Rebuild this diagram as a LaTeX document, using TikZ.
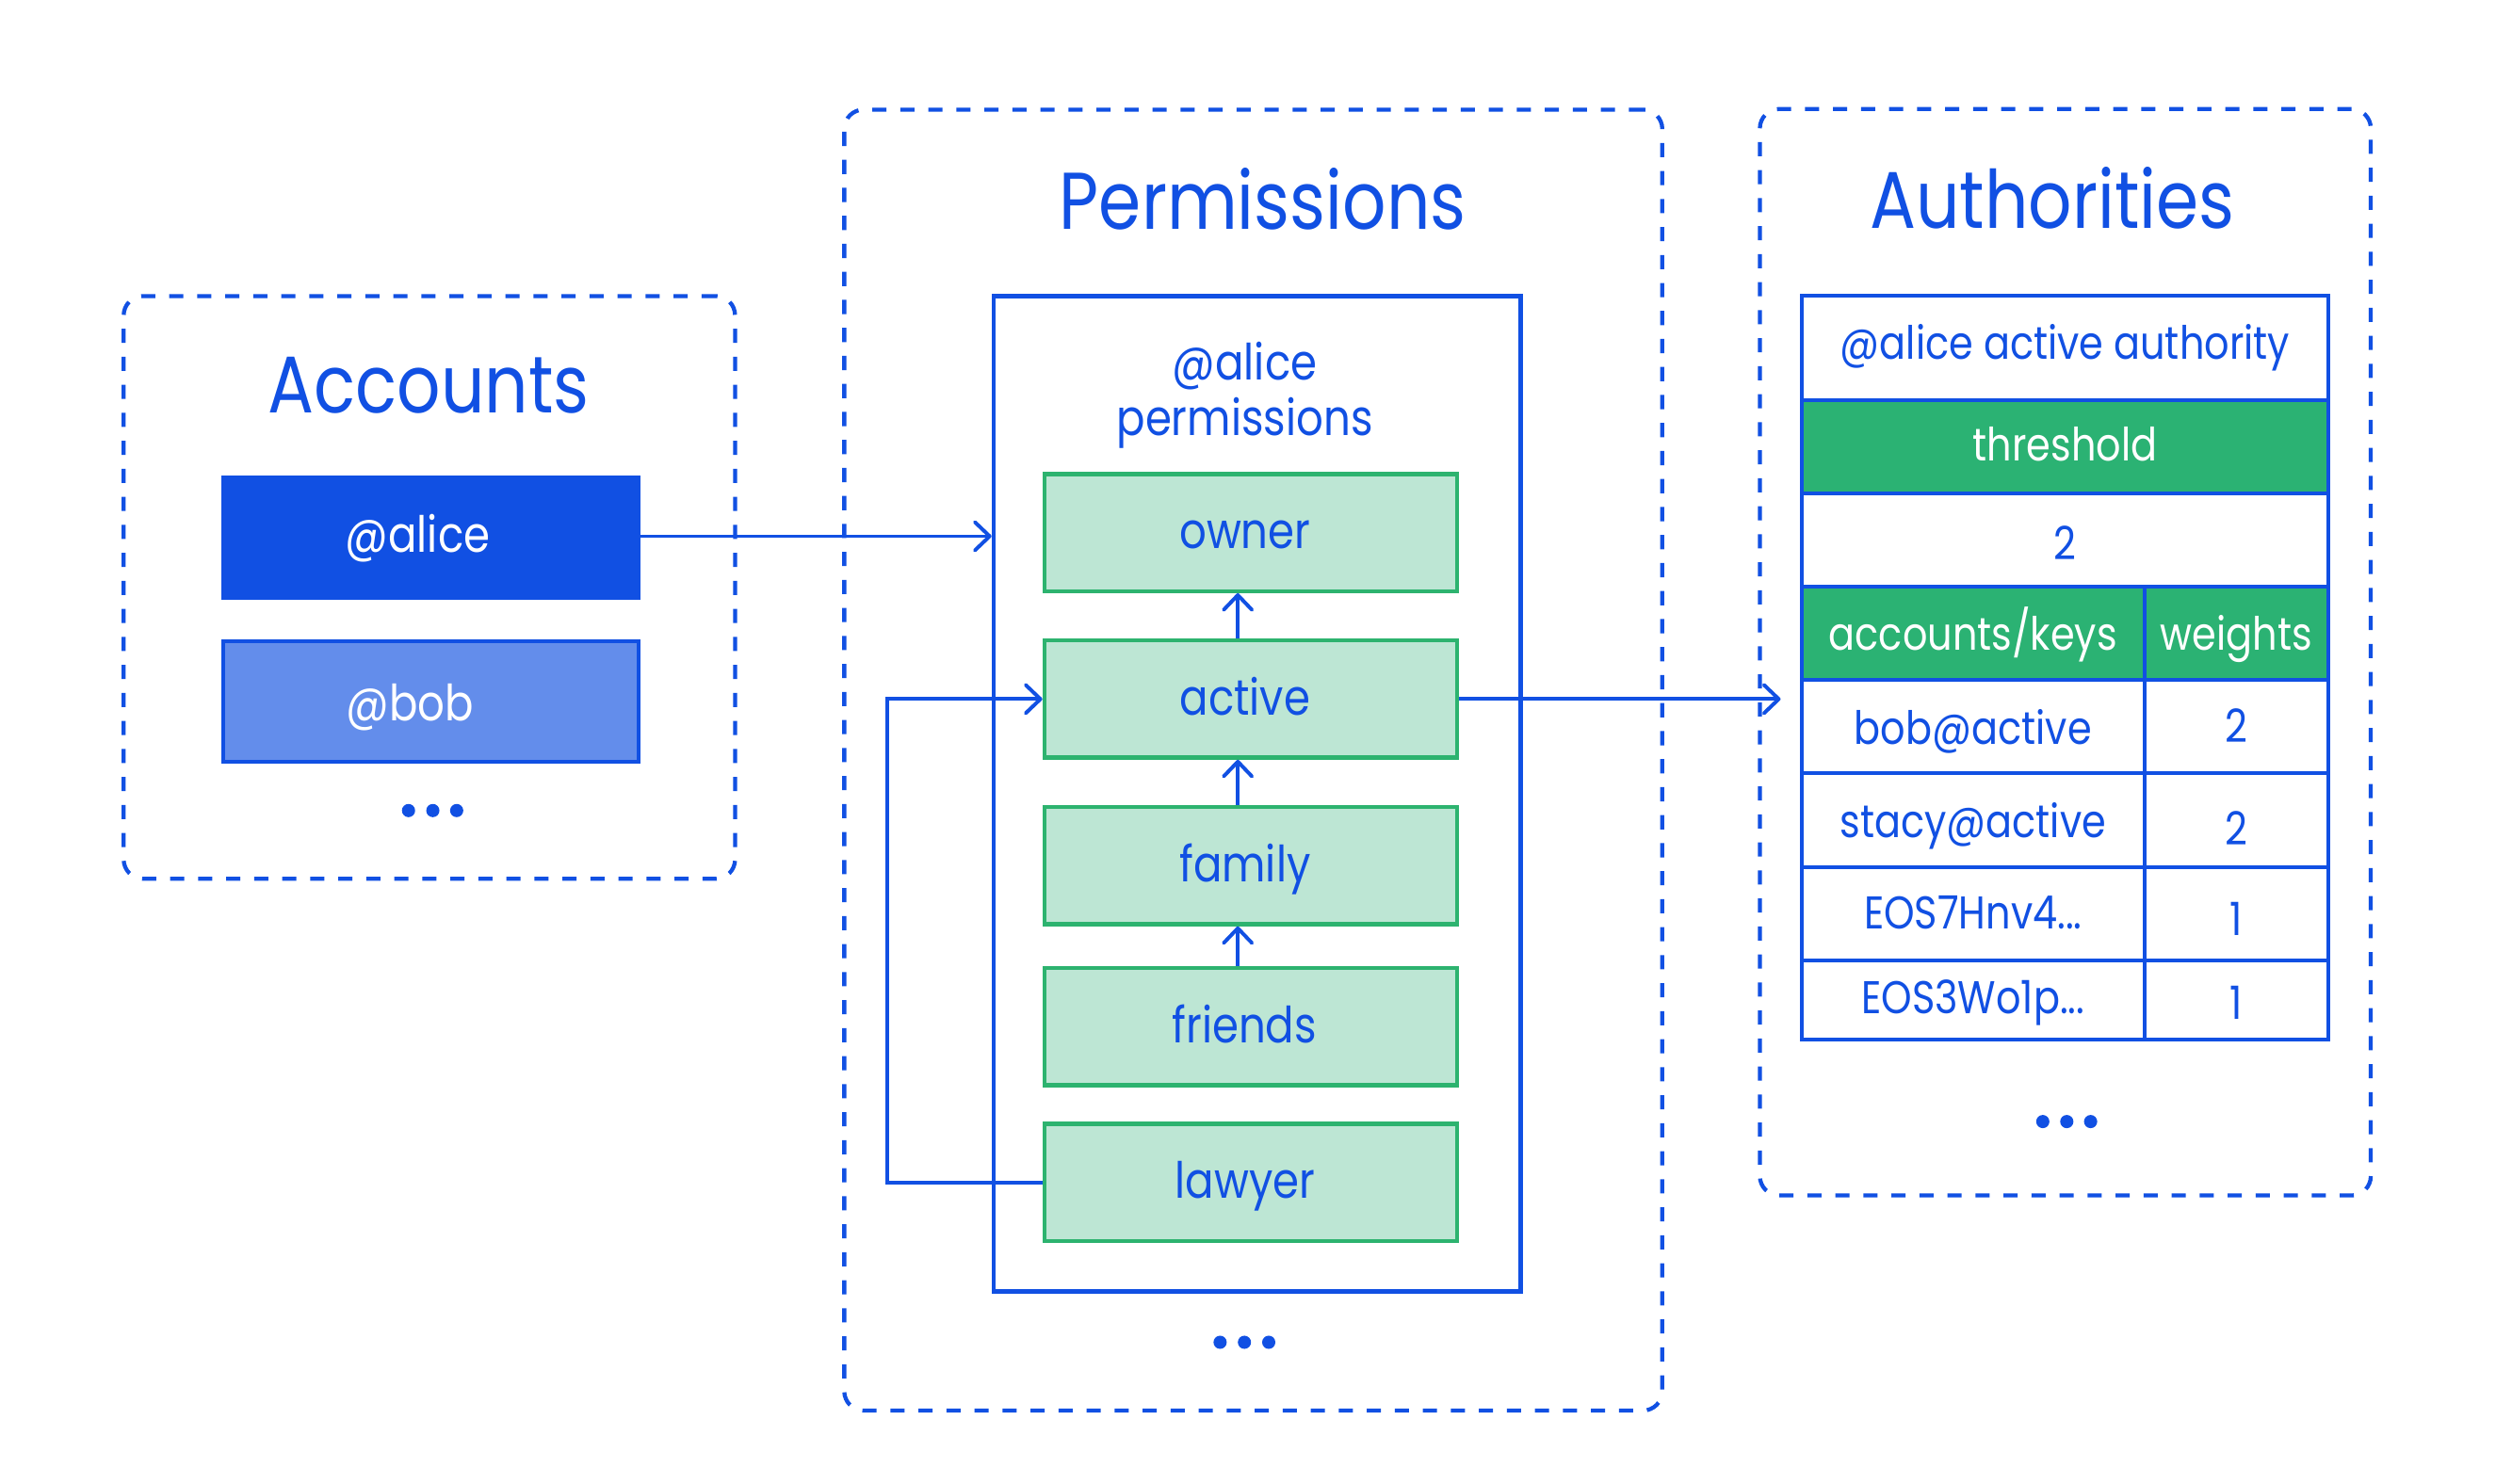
\documentclass[tikz,border=0pt]{standalone}
\usepackage{fontspec}
\setmainfont{Poppins}[FakeStretch=0.85]
\usetikzlibrary{arrows.meta}
\definecolor{cblue}{HTML}{1150E3}
\definecolor{cbob}{HTML}{638DEB}
\definecolor{cgreen}{HTML}{2DB36F}
\definecolor{cmint}{HTML}{BDE6D4}
\definecolor{ctab}{HTML}{2BB273}
\tikzset{
  group/.style={draw=cblue, dash pattern=on 8.8pt off 8.6pt, line width=2.5pt, rounded corners=12pt, inner sep=0pt},
  grouptitle/.style={text=cblue, font=\fontsize{50}{56}\selectfont, inner sep=0pt, anchor=base},
  acct/.style={draw=cblue, line width=2.3pt, minimum width=257.9pt, minimum height=75.2pt, inner sep=0pt, text=white, font=\fontsize{31}{35}\selectfont, text depth=0pt},
  perm/.style={draw=cgreen, fill=cmint, line width=2.6pt, minimum width=256.4pt, minimum height=72.8pt, inner sep=0pt, text=cblue, font=\fontsize{31}{35}\selectfont, text depth=0pt, text height=19.8pt},
  cell/.style={draw=cblue, line width=2.5pt, inner sep=0pt, text=cblue, font=\fontsize{28.5}{32}\selectfont, text depth=0pt},
  hcell/.style={cell, fill=ctab, text=white},
  wide/.style={minimum width=327.1pt},
  keyc/.style={minimum width=212.8pt},
  wgtc/.style={minimum width=114.3pt},
  conn/.style={draw=cblue, line width=2.3pt, -{Straight Barb[length=9.2pt,width=17.6pt,line width=2.3pt,round]}},
  dot/.style={fill=cblue},
}
\begin{document}
\begin{tikzpicture}[x=1pt,y=-1pt]
\useasboundingbox (0,0) rectangle (1560,921.3);
\fill[white] (0,0) rectangle (1560,921.3);

% group boxes
\node[group, minimum width=379.7pt, minimum height=362pt] (accbox) at (266.65,364.9) {};
\node[group, minimum width=508pt, minimum height=808.1pt] (permbox) at (778.3,472.15) {};
\node[group, minimum width=379.4pt, minimum height=674.9pt] (authbox) at (1282.6,405.15) {};

\node[grouptitle] (acctitle) at (266.2,256.4) {Accounts};
\node[grouptitle] (permtitle) at (784.2,142.2) {Permissions};
\node[grouptitle] (authtitle) at (1274.6,142.1) {Authorities};

% accounts
\node[acct, fill=cblue, text height=18.2pt] (alice) at (267.45,334.1) {\hspace*{-16pt}@alice};
\node[acct, fill=cbob, text height=23.4pt] (bob) at (267.45,435.8) {\hspace*{-25.4pt}@bob};
\fill[dot] (253.7,503.5) circle (4.1pt) (268.8,503.5) circle (4.1pt) (283.6,503.5) circle (4.1pt);

% permissions
\node[draw=cblue, line width=2.7pt, minimum width=327.3pt, minimum height=618pt, inner sep=0pt] (inner) at (780.75,493.1) {};
\node[text=cblue, font=\fontsize{31}{34.3}\selectfont, align=center, inner sep=0pt, anchor=base] (alicep) at (773,270.6) {@alice\\permissions};
\node[perm] (owner) at (776.8,330.8) {\hspace*{-7.2pt}owner};
\node[perm] (active) at (776.8,434.25) {\hspace*{-7.2pt}active};
\node[perm] (family) at (776.8,537.75) {\hspace*{-7.2pt}family};
\node[perm] (friends) at (776.8,637.8) {\hspace*{-8pt}friends};
\node[perm] (lawyer) at (776.8,734.4) {\hspace*{-7.2pt}lawyer};
\fill[dot] (757.7,833.8) circle (4.1pt) (772.8,833.8) circle (4.1pt) (787.9,833.8) circle (4.1pt);

% authorities table
\node[cell, wide, minimum height=65.2pt, text height=14pt] (hdr) at (1282.45,216.1) {@alice active authority};
\node[hcell, wide, minimum height=57.7pt, text height=17.2pt] (thr) at (1282.45,277.65) {threshold};
\node[cell, wide, minimum height=57.8pt, text height=24.3pt] (thrv) at (1282.45,335.4) {2};
\node[hcell, keyc, minimum height=58.2pt, text height=20.6pt] (akh) at (1225.3,393.4) {accounts/keys};
\node[hcell, wgtc, minimum height=58.2pt, text height=20.6pt] (wh) at (1388.85,393.4) {weights};
\node[cell, keyc, minimum height=57.7pt, text height=21.8pt] (k1) at (1225.3,451.35) {bob@active};
\node[cell, wgtc, minimum height=57.7pt, text height=19.9pt] (w1) at (1388.85,451.35) {2};
\node[cell, keyc, minimum height=58.3pt, text height=21.8pt] (k2) at (1225.3,509.35) {stacy@active};
\node[cell, wgtc, minimum height=58.3pt, text height=30.9pt] (w2) at (1388.85,509.35) {2};
\node[cell, keyc, minimum height=58pt, text height=19.3pt] (k3) at (1225.3,567.5) {EOS7Hnv4...};
\node[cell, wgtc, minimum height=58pt, text height=27.3pt] (w3) at (1388.85,567.5) {1};
\node[cell, keyc, minimum height=49.2pt, text height=16.7pt] (k4) at (1225.3,621.1) {EOS3Wo1p...};
\node[cell, wgtc, minimum height=49.2pt, text height=24.7pt] (w4) at (1388.85,621.1) {1};
\fill[dot] (1268.6,696.7) circle (4.1pt) (1283.5,696.7) circle (4.1pt) (1298.3,696.7) circle (4.1pt);

% connectors
\coordinate (authin) at (1105.8,434.25);
\draw[conn] ([yshift=1pt]alice.east) -- ([yshift=1pt]inner.west |- alice.east);
\draw[conn] (active.east) -- (authin);
\draw[conn] ([xshift=-8.1pt]active.north) -- ([xshift=-8.1pt]owner.south);
\draw[conn] ([xshift=-8.1pt]family.north) -- ([xshift=-8.1pt]active.south);
\draw[conn] ([xshift=-8.1pt]friends.north) -- ([xshift=-8.1pt]family.south);
\draw[conn] (lawyer.west) -- ++(-96.1,0) |- (active.west);
\end{tikzpicture}
\end{document}
